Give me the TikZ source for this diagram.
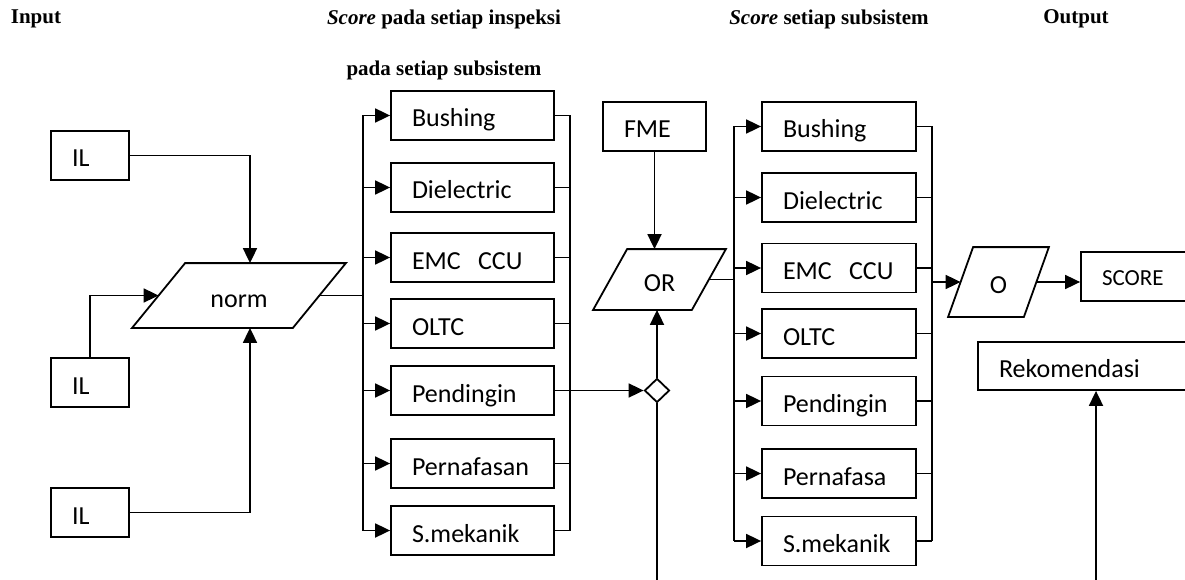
\documentclass[tikz,border=0pt]{standalone}
\usepackage{fontspec}
\newfontfamily\boxfont{Carlito}
\newfontfamily\headfont{Liberation Serif}
\usetikzlibrary{shapes.geometric,arrows.meta}

\tikzset{
  head/.style={inner sep=0pt,font=\headfont\bfseries\fontsize{21}{24}\selectfont},
  box/.style={draw,minimum height=49pt,inner xsep=21pt,inner ysep=0pt,text width=#1,
    align=left,text height=24pt,text depth=1pt,font=\boxfont\fontsize{26}{30}\selectfont},
  para/.style={inner sep=0pt,text height=24pt,text depth=1pt,
    font=\boxfont\fontsize{26}{30}\selectfont},
  tip/.style={draw,diamond,minimum width=25pt,minimum height=24pt,inner sep=0pt}
}

\begin{document}
\begin{tikzpicture}[x=1pt,y=-1pt,line width=1.8pt,>={Triangle[length=15pt,width=14pt]}]
  \useasboundingbox (0,0) rectangle (1185,580);
  \clip (0,0) rectangle (1185,580);

  % headings
  \node[head,anchor=west] (hin) at (10,19) {Input};
  \node[head] (hins) at (444,19) {\textit{Score} pada setiap inspeksi};
  \node[head] (hins2) at (444,70) {pada setiap subsistem};
  \node[head] (hsub) at (829,19) {\textit{Score} setiap subsistem};
  \node[head] (hout) at (1076,19) {Output};

  % inputs
  \node[box=36pt] (il1) at (90,155.5) {IL};
  \node[box=36pt] (il2) at (90,382.5) {IL};
  \node[box=36pt] (il3) at (90,512.5) {IL};
  \node[para,minimum width=212pt,minimum height=63pt] (norm) at (239,295.5) {norm};
  \draw ([xshift=53pt]norm.north west) -- (norm.north east)
    -- ([xshift=-53pt]norm.south east) -- (norm.south west) -- cycle;
  \coordinate (nin) at (250,0);

  % score per inspection
  \node[box=121pt] (bush1) at (472.5,115.5) {Bushing};
  \node[box=121pt] (diel1) at (472.5,187.5) {Dielectric};
  \node[box=121pt] (emc1) at (472.5,257.5) {EMC~~CCU};
  \node[box=121pt] (oltc1) at (472.5,323.5) {OLTC};
  \node[box=121pt] (pend1) at (472.5,390.5) {Pendingin};
  \node[box=121pt] (pern1) at (472.5,463.5) {Pernafasan};
  \node[box=121pt] (smek1) at (472.5,530.5) {S.mekanik};
  \coordinate (b1) at (363,0);
  \coordinate (r1) at (570,0);

  % middle
  \node[box=61pt] (fme) at (654.5,126.5) {FME};
  \node[para,minimum width=131pt,minimum height=59pt] (or) at (659.5,279.5) {OR};
  \draw ([xshift=34pt]or.north west) -- (or.north east)
    -- ([xshift=-34pt]or.south east) -- (or.south west) -- cycle;
  \node[tip] (dia) at (657,390.5) {};
  \coordinate (dend) at (657,590);

  % score per subsystem
  \node[box=112pt] (bush2) at (839,126.5) {Bushing};
  \node[box=112pt] (diel2) at (839,197.5) {Dielectric};
  \node[box=112pt] (emc2) at (839,268) {EMC~~CCU};
  \node[box=112pt] (oltc2) at (839,333.5) {OLTC};
  \node[box=112pt] (pend2) at (839,401) {Pendingin};
  \node[box=112pt] (pern2) at (839,473.5) {Pernafasa};
  \node[box=112pt] (smek2) at (839,541) {S.mekanik};
  \coordinate (b2) at (734,0);
  \coordinate (r2) at (932,0);

  % output
  \node[para,minimum width=99pt,minimum height=68pt] (o) at (998.5,282) {O};
  \draw ([xshift=25pt]o.north west) -- (o.north east)
    -- ([xshift=-25pt]o.south east) -- (o.south west) -- cycle;
  \node[box=88pt,text height=19pt,text depth=2pt,
    font=\boxfont\fontsize{23}{27}\selectfont] (score) at (1146,276.5) {SCORE};
  \node[box=188pt,minimum height=48pt] (rek) at (1093,366) {Rekomendasi};
  \coordinate (rend) at (1096,590);

  % connectors
  \draw[->] (il1.east) -| (nin |- norm.north);
  \draw[->] (il2.north) |- ([xshift=26.5pt]norm.west);
  \draw[->] (il3.east) -| (nin |- norm.south);
  \draw ([xshift=-26.5pt]norm.east) -- (norm.east -| b1);
  \draw (bush1.west -| b1) -- (smek1.west -| b1);
  \draw (bush1.east -| r1) -- (smek1.east -| r1);
  \foreach \n in {bush1,diel1,emc1,oltc1,pend1,pern1,smek1} {
    \draw[->] (\n.west -| b1) -- (\n.west);
    \draw (\n.east) -- (\n.east -| r1);
  }
  \draw[->] (pend1.east) -- (dia.west);
  \draw[->] (fme.south) -- (fme.south |- or.north);
  \draw[->] (dia.north) -- (dia.north |- or.south);
  \draw (dia.south) -- (dend);
  \draw ([xshift=-17pt]or.east) -- (or.east -| b2);
  \draw (bush2.west -| b2) -- (smek2.west -| b2);
  \draw (bush2.east -| r2) -- (smek2.east -| r2);
  \foreach \n in {bush2,diel2,emc2,oltc2,pend2,pern2,smek2} {
    \draw[->] (\n.west -| b2) -- (\n.west);
    \draw (\n.east) -- (\n.east -| r2);
  }
  \draw[->] (o.west -| r2) -- ([xshift=12.5pt]o.west);
  \draw[->] ([xshift=-12.5pt]o.east) -- (o.east -| score.west);
  \draw[->] (rend) -- (rend |- rek.south);
\end{tikzpicture}
\end{document}
